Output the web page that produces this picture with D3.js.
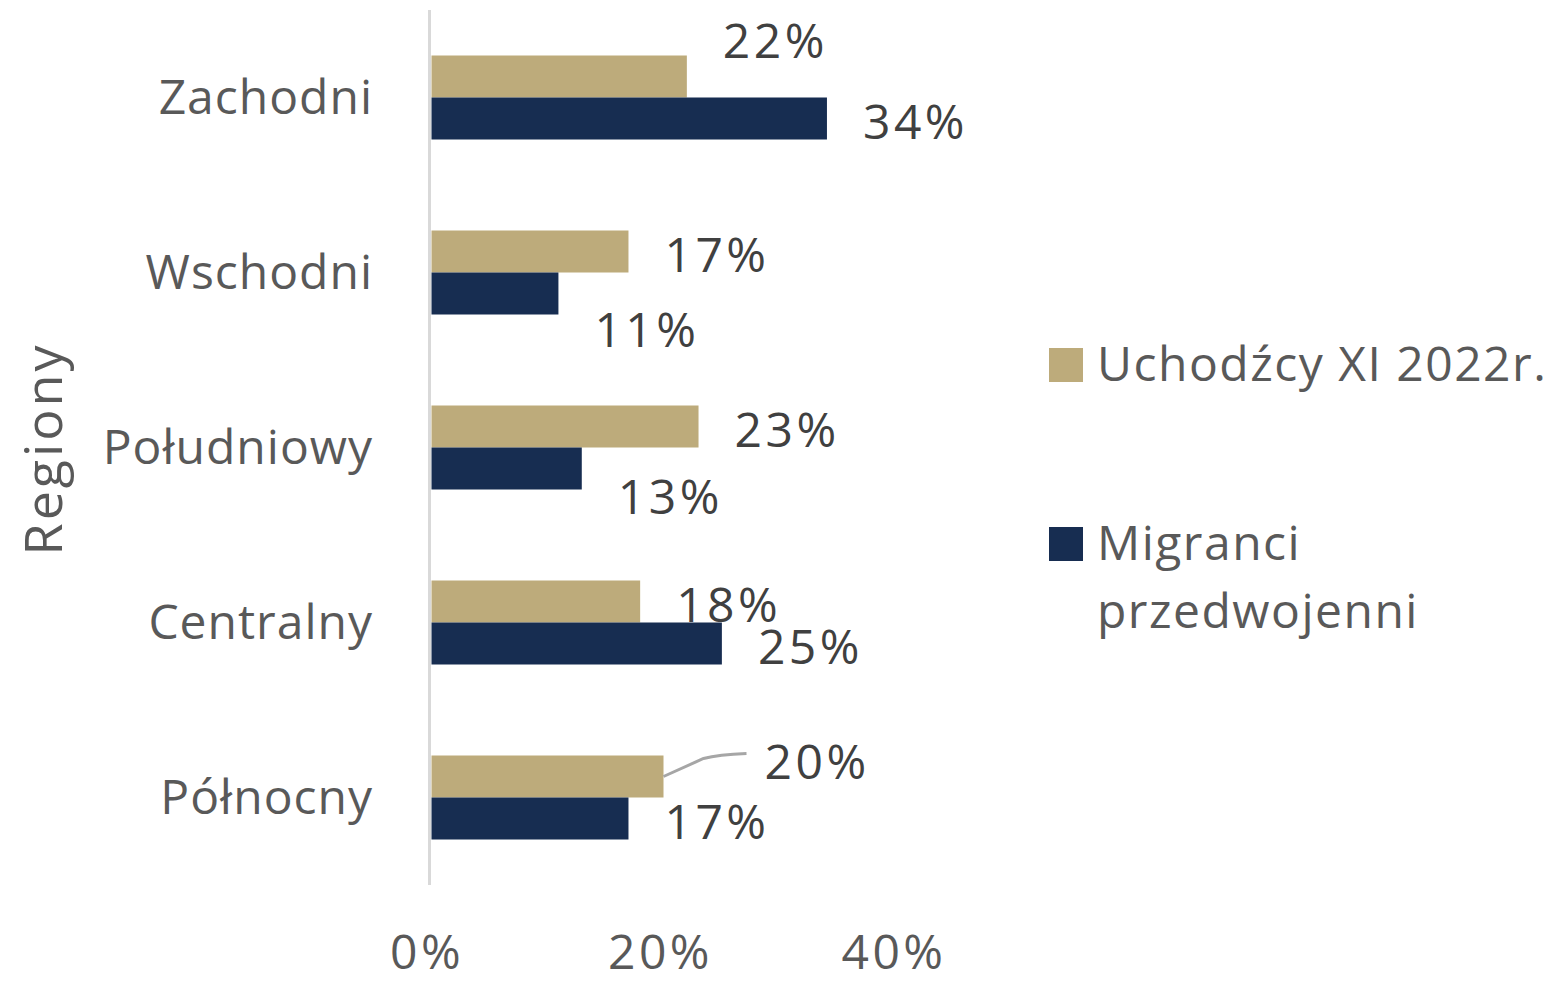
<!DOCTYPE html>
<html>
<head>
<meta charset="utf-8">
<script src="https://cdn.jsdelivr.net/npm/d3@7"></script>
<style>
  body { margin: 0; background: #fff; }
  svg { display: block; font-family: "Open Sans", "Noto Sans", sans-serif; }
</style>
</head>
<body>
<svg width="1553" height="984"></svg>
<script>
const regions = ["Zachodni", "Wschodni", "Południowy", "Centralny", "Północny"];
const seriesNames = ["Uchodźcy XI 2022r.", "Migranci przedwojenni"];
const refugees = [0.22, 0.17, 0.23, 0.18, 0.20];
const migrants = [0.34, 0.11, 0.13, 0.25, 0.17];
const xTicks = [0, 0.2, 0.4];
const colors = ["#bdab7b", "#172d51"];

// hand-moved data labels, [dx, dy] per region, one list per series
const nudgeRefugees = [[0, -39], [0, 0], [0, 0], [0, 0], [65, -18]];
const nudgeMigrants = [[0, 0], [0, 33], [0, 25], [0, 0], [0, 0]];

const svg = d3.select("svg");
const pct = d3.format(".0%");

const x = d3.scaleLinear().domain([0, 0.4]).range([430, 897]);
const y = d3.scalePoint().domain(regions).range([10, 885]).padding(0.5);
const groupH = 84;
const sub = d3.scaleBand().domain([0, 1]).range([-groupH / 2, groupH / 2]);

// vertical axis line
svg.append("line")
    .attr("x1", x(0) - 0.5).attr("x2", x(0) - 0.5)
    .attr("y1", 10).attr("y2", 885)
    .attr("stroke", "#d9d9d9")
    .attr("stroke-width", 3);

const rows = regions.map((r, i) => ({
    region: r,
    vals: [refugees[i], migrants[i]],
    nudges: [nudgeRefugees[i], nudgeMigrants[i]]
}));

const g = svg.selectAll(".group")
    .data(rows)
    .enter()
    .append("g")
    .attr("transform", d => `translate(0,${y(d.region)})`);

g.selectAll("rect")
    .data(d => d.vals)
    .enter()
    .append("rect")
    .attr("x", x(0) + 1.5)
    .attr("y", (v, j) => sub(j))
    .attr("width", v => x(v) - x(0) - 1.5)
    .attr("height", sub.bandwidth())
    .attr("fill", (v, j) => colors[j]);

// data labels
g.each(function (d) {
    const grp = d3.select(this);
    d.vals.forEach((v, j) => {
        const [dx, dy] = d.nudges[j];
        const lx = x(v) + 36 + dx;
        const ly = sub(j) + sub.bandwidth() / 2 + 4 + dy;
        if (dx > 20) {
            // leader line back to the bar end
            const by = sub(j) + sub.bandwidth() / 2;
            grp.append("path")
                .attr("d", `M${x(v)},${by} L${x(v) + 40},${ly - 4} Q${x(v) + 55},${ly - 8} ${x(v) + 83},${ly - 9}`)
                .attr("fill", "none")
                .attr("stroke", "#a6a6a6")
                .attr("stroke-width", 3);
        }
        grp.append("text")
            .attr("x", lx)
            .attr("y", ly)
            .attr("dy", "0.35em")
            .attr("font-size", 48)
            .attr("letter-spacing", 3.5)
            .attr("fill", "#404040")
            .text(pct(v));
    });
});

// category labels
svg.selectAll(".cat")
    .data(regions)
    .enter()
    .append("text")
    .attr("x", 373)
    .attr("y", d => y(d))
    .attr("dy", "0.35em")
    .attr("text-anchor", "end")
    .attr("font-size", 48)
    .attr("letter-spacing", 1)
    .attr("fill", "#595959")
    .text(d => d);

// x tick labels
svg.selectAll(".tick")
    .data(xTicks)
    .enter()
    .append("text")
    .attr("x", d => x(d) - 3)
    .attr("y", 969)
    .attr("text-anchor", "middle")
    .attr("font-size", 48)
    .attr("letter-spacing", 3.5)
    .attr("fill", "#595959")
    .text(d => pct(d));

// axis title
svg.append("text")
    .attr("transform", "translate(62,449) rotate(-90)")
    .attr("text-anchor", "middle")
    .attr("font-size", 52)
    .attr("letter-spacing", 3)
    .attr("fill", "#595959")
    .text("Regiony");

// legend
const legend = svg.append("g");
const legendRows = [
    { y: 348, lines: ["Uchodźcy XI 2022r."] },
    { y: 527, lines: ["Migranci", "przedwojenni"] }
];
legendRows.forEach((row, j) => {
    legend.append("rect")
        .attr("x", 1049).attr("y", row.y)
        .attr("width", 34).attr("height", 34)
        .attr("fill", colors[j]);
    const t = legend.append("text")
        .attr("x", 1097)
        .attr("y", row.y + 33)
        .attr("font-size", 48)
        .attr("letter-spacing", 1.5)
        .attr("fill", "#595959");
    row.lines.forEach((ln, k) => {
        t.append("tspan")
            .attr("x", 1097)
            .attr("dy", k === 0 ? 0 : 68)
            .text(ln);
    });
});
</script>
</body>
</html>
